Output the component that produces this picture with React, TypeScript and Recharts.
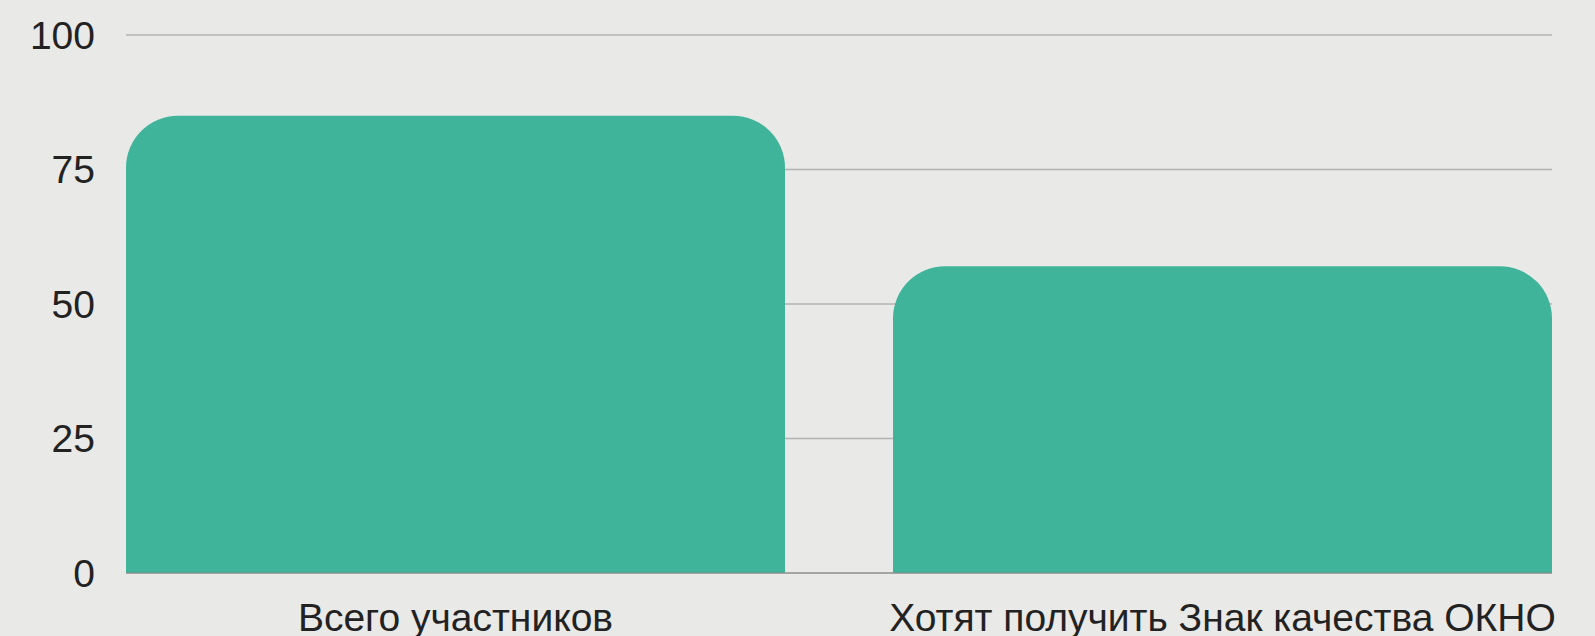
import React from 'react';
import { BarChart, Bar, XAxis, YAxis, CartesianGrid } from 'recharts';

const categories = ['Всего участников', 'Хотят получить Знак качества ОКНО'];
const values = [85, 57];
const yTicks = [0, 25, 50, 75, 100];

const data = categories.map((name, i) => ({ name, value: values[i] }));

const tickStyle = { fill: '#222222', fontSize: 39, fontFamily: 'Liberation Sans, Arial, sans-serif' };

export default function App() {
  return (
    <div style={{ position: 'absolute', left: 0, top: 0, width: 1595, height: 636, background: '#e9e9e7' }}>
      <BarChart
        width={1595}
        height={636}
        data={data}
        margin={{ top: 35, right: 43, left: 0, bottom: 0 }}
        barCategoryGap={54}
      >
        <CartesianGrid vertical={false} stroke="#b3b3b3" strokeWidth={1.5} />
        <XAxis
          dataKey="name"
          height={63}
          padding={{ left: -54, right: -54 }}
          tickLine={false}
          tickSize={0}
          tickMargin={30}
          axisLine={{ stroke: '#888888' }}
          tick={tickStyle}
          interval={0}
        />
        <YAxis
          width={126}
          domain={[0, 100]}
          ticks={yTicks}
          tickLine={false}
          axisLine={false}
          tickSize={0}
          tickMargin={31}
          tick={tickStyle}
        />
        <Bar dataKey="value" fill="#40b49a" radius={[52, 52, 0, 0]} isAnimationActive={false} />
      </BarChart>
    </div>
  );
}
